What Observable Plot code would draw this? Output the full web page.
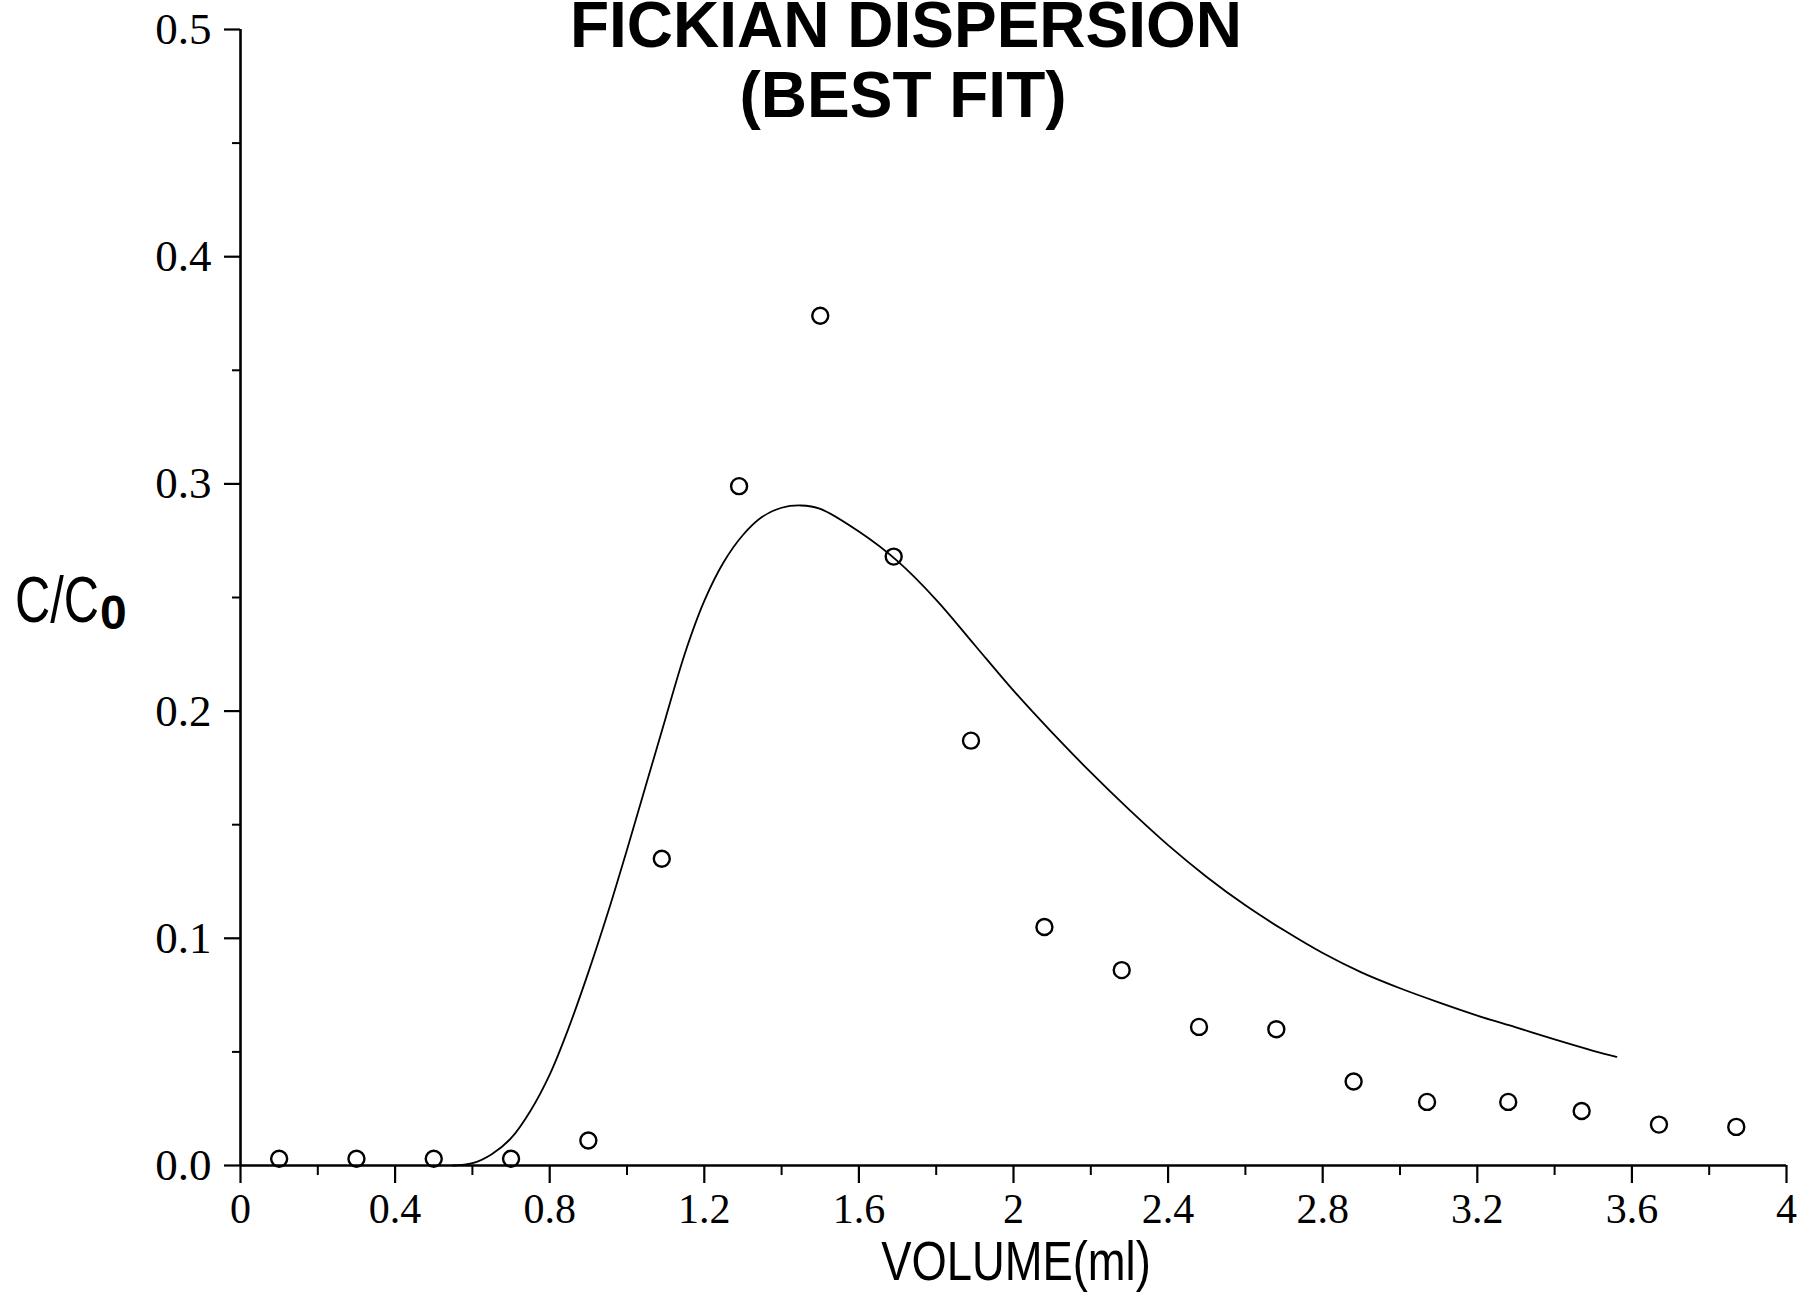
<!DOCTYPE html>
<html>
<head>
<meta charset="utf-8">
<script src="https://cdn.jsdelivr.net/npm/d3@7"></script>
<script src="https://cdn.jsdelivr.net/npm/@observablehq/plot@0.6"></script>
<style>
  html, body { margin: 0; padding: 0; background: #fff; }
  #wrap { position: relative; width: 1799px; height: 1307px; overflow: hidden; background: #fff; }
  #overlay { position: absolute; left: 0; top: 0; pointer-events: none; }
</style>
</head>
<body>
<div id="wrap">
  <div id="chart"></div>
  <svg id="overlay" width="1799" height="1307" xmlns="http://www.w3.org/2000/svg">
    <g font-family="'Liberation Sans', Arial, Helvetica, sans-serif" fill="#000">
      <text x="906" y="47" text-anchor="middle" font-weight="bold" font-size="64">FICKIAN DISPERSION</text>
      <text x="903" y="117" text-anchor="middle" font-weight="bold" font-size="64">(BEST FIT)</text>
      <g transform="translate(15,622) scale(0.75,1)"><text x="0" y="0" font-size="65">C/C</text></g>
      <text x="100" y="629" font-weight="bold" font-size="48">0</text>
      <g transform="translate(1016,1280) scale(0.81,1)"><text x="0" y="0" text-anchor="middle" font-size="56">VOLUME(ml)</text></g>
    </g>
  </svg>
</div>
<script>
// Axis ticks
const xTicksMajor = [0, 0.4, 0.8, 1.2, 1.6, 2, 2.4, 2.8, 3.2, 3.6, 4];
const xTicksMinor = [0.2, 0.6, 1.0, 1.4, 1.8, 2.2, 2.6, 3.0, 3.4, 3.8];
const yTicksMajor = [0, 0.1, 0.2, 0.3, 0.4, 0.5];
const yTicksMinor = [0.05, 0.15, 0.25, 0.35, 0.45];

// Observed data (open circles)
const obsVolume = [0.10, 0.30, 0.50, 0.70, 0.90, 1.09, 1.29, 1.50, 1.69, 1.89, 2.08, 2.28, 2.48, 2.68, 2.88, 3.07, 3.28, 3.47, 3.67, 3.87];
const obsConc   = [0.003, 0.003, 0.003, 0.003, 0.011, 0.135, 0.299, 0.374, 0.268, 0.187, 0.105, 0.086, 0.061, 0.060, 0.037, 0.028, 0.028, 0.024, 0.018, 0.017];

// Fickian dispersion best-fit curve
const fitVolume = [0.55, 0.60, 0.65, 0.70, 0.75, 0.80, 0.85, 0.90, 0.95, 1.00, 1.05, 1.10, 1.15, 1.20, 1.25, 1.30, 1.35, 1.40, 1.45, 1.50, 1.60, 1.70, 1.80, 1.90, 2.00, 2.10, 2.20, 2.30, 2.40, 2.50, 2.60, 2.70, 2.80, 2.90, 3.00, 3.10, 3.20, 3.30, 3.40, 3.50, 3.56];
const fitConc   = [0.000, 0.001, 0.005, 0.012, 0.024, 0.040, 0.061, 0.085, 0.111, 0.139, 0.168, 0.197, 0.2255, 0.2485, 0.2655, 0.2775, 0.2855, 0.2895, 0.2905, 0.2890, 0.2790, 0.2660, 0.2490, 0.2290, 0.2090, 0.1905, 0.1730, 0.1565, 0.1410, 0.1270, 0.1145, 0.1035, 0.0935, 0.0850, 0.0780, 0.0718, 0.0660, 0.0608, 0.0555, 0.0505, 0.0478];

const obs = obsVolume.map((v, i) => ({volume: v, conc: obsConc[i]}));
const fit = fitVolume.map((v, i) => ({volume: v, conc: fitConc[i]}));

const serif = "'Liberation Serif', 'Times New Roman', Times, serif";

const chart = Plot.plot({
  width: 1799,
  height: 1307,
  marginLeft: 240,
  marginRight: 13,
  marginTop: 29,
  marginBottom: 142,
  style: { background: "#fff", color: "#000", fontFamily: serif, overflow: "visible" },
  x: { domain: [0, 4] },
  y: { domain: [0, 0.5] },
  marks: [
    Plot.axisY({ ticks: yTicksMajor, tickSize: 16, tickPadding: 13, tickFormat: d3.format(".1f"), fontSize: 45, fontFamily: serif, strokeWidth: 2.2, label: null }),
    Plot.axisY({ ticks: yTicksMinor, tickSize: 8, tickFormat: () => "", strokeWidth: 2, label: null }),
    Plot.axisX({ ticks: xTicksMajor, tickSize: 18, tickPadding: 10, tickFormat: d => String(+d.toFixed(1)), fontSize: 42, fontFamily: serif, strokeWidth: 2.2, label: null }),
    Plot.axisX({ ticks: xTicksMinor, tickSize: 10, tickFormat: () => "", strokeWidth: 2, label: null }),
    Plot.ruleY([0], { stroke: "#000", strokeWidth: 2.6 }),
    Plot.ruleX([0], { stroke: "#000", strokeWidth: 2.6 }),
    Plot.line(fit, { x: "volume", y: "conc", curve: "catmull-rom", stroke: "#000", strokeWidth: 1.8 }),
    Plot.dot(obs, { x: "volume", y: "conc", r: 8, stroke: "#000", strokeWidth: 2.4, fill: "none" })
  ]
});
document.getElementById("chart").appendChild(chart);
</script>
</body>
</html>
